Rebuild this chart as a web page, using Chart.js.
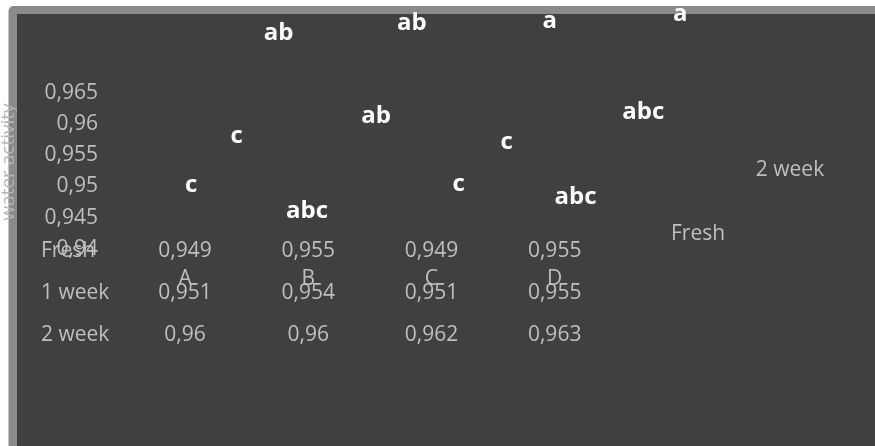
<!DOCTYPE html>
<html>
<head>
<meta charset="utf-8">
<script src="https://cdn.jsdelivr.net/npm/chart.js@4.4.0/dist/chart.umd.min.js"></script>
<style>
    html, body { margin: 0; padding: 0; background: #ffffff; }
    #wrap { width: 875px; height: 446px; }
</style>
</head>
<body>
<div id="wrap"><canvas id="chart" width="875" height="446"></canvas></div>
<script>
// Categories and series
const categories = ['A', 'B', 'C', 'D'];
const seriesNames = ['Fresh', '1 week', '2 week'];
const freshValues = [0.949, 0.955, 0.949, 0.955];
const week1Values = [0.951, 0.954, 0.951, 0.955];
const week2Values = [0.96, 0.96, 0.962, 0.963];

// Y axis ticks
const tickValues = [0.94, 0.945, 0.95, 0.955, 0.96, 0.965];
const tickLabels = ['0,94', '0,945', '0,95', '0,955', '0,96', '0,965'];

// Significance letters, one per series and category, with their anchor in axis units
const freshLetters = ['c', 'abc', 'c', 'abc'];
const week1Letters = ['c', 'ab', 'c', 'abc'];
const week2Letters = ['ab', 'ab', 'a', 'a'];
const freshLetterX = [0.05, 0.99, 2.22, 3.17];
const week1LetterX = [0.42, 1.55, 2.61, 3.72];
const week2LetterX = [0.76, 1.84, 2.96, 4.02];
const freshLetterY = [0.9488, 0.9447, 0.9490, 0.9469];
const week1LetterY = [0.9567, 0.9599, 0.9557, 0.9605];
const week2LetterY = [0.9732, 0.9748, 0.9751, 0.9762];

const FONT = '"Open Sans", "Noto Sans", sans-serif';
const TEXT_GRAY = '#bfbfbf';

function letterPoints(xs, ys) {
    return xs.map((x, i) => ({ x: x, y: ys[i] }));
}

// number with a decimal comma, as in the table
function commaNumber(v) {
    return String(v).replace('.', ',');
}

// Frame, panel and the axis title, drawn under everything else
const framePlugin = {
    id: 'frame',
    beforeDraw(chart) {
        const ctx = chart.ctx;
        ctx.save();
        ctx.fillStyle = '#ffffff';
        ctx.fillRect(0, 0, chart.width, chart.height);

        ctx.fillStyle = '#8a8a8a';
        ctx.beginPath();
        ctx.roundRect(8.5, 6, chart.width + 20, chart.height + 20, 5);
        ctx.fill();

        ctx.translate(14, 162);
        ctx.rotate(-Math.PI / 2);
        ctx.fillStyle = '#b4b4b4';
        ctx.font = '19px ' + FONT;
        ctx.textAlign = 'center';
        ctx.textBaseline = 'alphabetic';
        ctx.fillText('water activity', 0, 0);
        ctx.setTransform(1, 0, 0, 1, 0, 0);

        ctx.fillStyle = '#404040';
        ctx.fillRect(17, 14, chart.width, chart.height);
        ctx.restore();
    }
};

// Letters, data table, category labels and legend
const textPlugin = {
    id: 'texts',
    afterDraw(chart) {
        const ctx = chart.ctx;
        const x = chart.scales.x;
        const letters = [freshLetters, week1Letters, week2Letters];
        const rows = [freshValues, week1Values, week2Values];
        ctx.save();

        ctx.fillStyle = '#ffffff';
        ctx.font = 'bold 24px ' + FONT;
        ctx.textAlign = 'center';
        ctx.textBaseline = 'alphabetic';
        letters.forEach((list, d) => {
            chart.getDatasetMeta(d).data.forEach((el, i) => {
                ctx.fillText(list[i], el.x, el.y);
            });
        });

        ctx.fillStyle = TEXT_GRAY;
        ctx.font = '21px ' + FONT;
        const rowBase = [257, 299, 341];
        rows.forEach((row, r) => {
            ctx.textAlign = 'left';
            ctx.fillText(seriesNames[r], 41, rowBase[r]);
            ctx.textAlign = 'center';
            row.forEach((v, i) => {
                ctx.fillText(commaNumber(v), x.getPixelForValue(i), rowBase[r]);
            });
        });

        ctx.textAlign = 'center';
        categories.forEach((c, i) => {
            ctx.fillText(c, x.getPixelForValue(i), 285);
        });

        ctx.fillText(seriesNames[2], 790, 176);
        ctx.textAlign = 'left';
        ctx.fillText(seriesNames[0], 671, 240);
        ctx.restore();
    }
};

new Chart(document.getElementById('chart').getContext('2d'), {
    type: 'scatter',
    data: {
        datasets: [
            { label: seriesNames[0], data: letterPoints(freshLetterX, freshLetterY), pointRadius: 0 },
            { label: seriesNames[1], data: letterPoints(week1LetterX, week1LetterY), pointRadius: 0 },
            { label: seriesNames[2], data: letterPoints(week2LetterX, week2LetterY), pointRadius: 0 }
        ]
    },
    options: {
        responsive: false,
        animation: false,
        events: [],
        layout: { padding: { top: 14, right: 0, bottom: 0, left: 0 } },
        plugins: {
            legend: { display: false },
            tooltip: { enabled: false }
        },
        scales: {
            x: {
                type: 'linear',
                display: false,
                min: -0.609,
                max: 5.6
            },
            y: {
                type: 'linear',
                min: 0.9081,
                max: 0.9773,
                grid: { display: false, drawTicks: false },
                border: { display: false },
                afterFit(scale) {
                    scale.width = 110;
                    scale.paddingTop = 0;
                    scale.paddingBottom = 0;
                },
                afterBuildTicks(scale) {
                    scale.ticks = tickValues.map(v => ({ value: v }));
                },
                ticks: {
                    padding: 12,
                    labelOffset: 2,
                    color: TEXT_GRAY,
                    font: { family: FONT, size: 21 },
                    callback: (value, index) => tickLabels[index]
                }
            }
        }
    },
    plugins: [framePlugin, textPlugin]
});
</script>
</body>
</html>
